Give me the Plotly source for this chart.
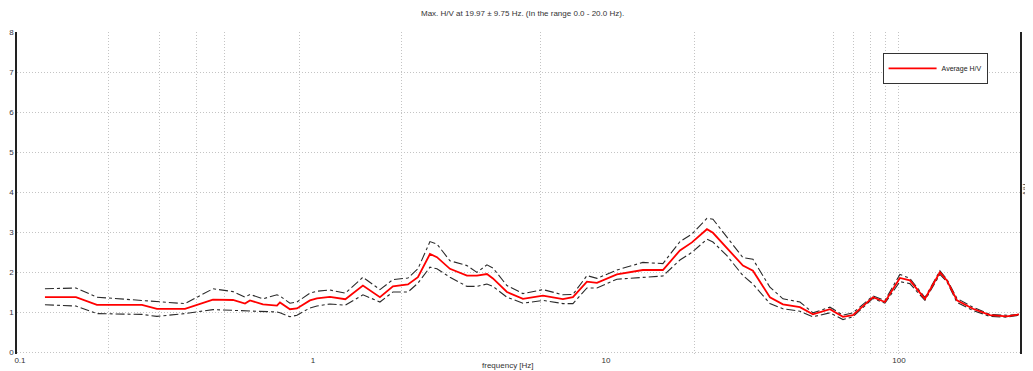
import plotly.graph_objects as go
import math

# Frequencies [Hz]
freq = [0.1217, 0.1553, 0.1831, 0.2609, 0.2935, 0.3658, 0.4557, 0.5333, 0.5862, 0.6095,
        0.6751, 0.7537, 0.7716, 0.8346, 0.8818, 0.9767, 1.032, 1.143, 1.29, 1.481,
        1.693, 1.875, 2.110, 2.282, 2.508, 2.650, 2.935, 3.355, 3.628, 3.925,
        4.115, 4.594, 5.209, 6.095, 7.132, 7.716, 8.614, 9.318, 10.90, 13.37,
        15.65, 17.89, 19.66, 22.12, 23.19, 25.88, 29.35, 31.75, 36.28, 40.19,
        45.94, 50.87, 58.15, 64.43, 69.66, 81.53, 89.59, 100.8, 109.0, 122.7,
        138.0, 145.8, 157.8, 178.9, 204.5, 233.7, 256.8]

hv_mean = [1.37, 1.37, 1.18, 1.18, 1.08, 1.08, 1.31, 1.30, 1.21, 1.29,
           1.19, 1.16, 1.24, 1.07, 1.09, 1.29, 1.34, 1.38, 1.32, 1.66,
           1.37, 1.64, 1.69, 1.87, 2.45, 2.37, 2.08, 1.91, 1.91, 1.95,
           1.84, 1.50, 1.33, 1.41, 1.32, 1.37, 1.76, 1.73, 1.94, 2.05,
           2.05, 2.54, 2.74, 3.07, 2.98, 2.61, 2.16, 2.03, 1.37, 1.19,
           1.12, 0.94, 1.07, 0.88, 0.92, 1.37, 1.25, 1.85, 1.79, 1.33,
           1.99, 1.79, 1.29, 1.08, 0.92, 0.89, 0.94]

hv_upper = [1.58, 1.60, 1.37, 1.28, 1.25, 1.21, 1.58, 1.51, 1.37, 1.44,
            1.33, 1.43, 1.40, 1.22, 1.25, 1.47, 1.52, 1.55, 1.47, 1.87,
            1.56, 1.81, 1.85, 2.08, 2.76, 2.70, 2.28, 2.16, 1.99, 2.18,
            2.10, 1.66, 1.46, 1.56, 1.43, 1.44, 1.91, 1.84, 2.05, 2.24,
            2.21, 2.76, 2.95, 3.34, 3.32, 2.86, 2.36, 2.32, 1.62, 1.33,
            1.25, 0.98, 1.12, 0.92, 0.98, 1.40, 1.29, 1.94, 1.84, 1.36,
            2.03, 1.82, 1.34, 1.12, 0.94, 0.92, 0.94]

hv_lower = [1.18, 1.15, 0.96, 0.94, 0.89, 0.96, 1.06, 1.04, 1.03, 1.03,
            1.00, 1.00, 0.98, 0.88, 0.92, 1.10, 1.15, 1.20, 1.17, 1.43,
            1.25, 1.50, 1.50, 1.72, 2.12, 2.08, 1.87, 1.64, 1.64, 1.70,
            1.64, 1.37, 1.22, 1.29, 1.21, 1.21, 1.60, 1.60, 1.82, 1.87,
            1.90, 2.30, 2.49, 2.82, 2.75, 2.41, 1.91, 1.70, 1.21, 1.08,
            1.02, 0.88, 0.98, 0.81, 0.88, 1.34, 1.22, 1.76, 1.71, 1.29,
            1.94, 1.76, 1.24, 1.04, 0.89, 0.87, 0.92]

x_grid_vals = [0.2, 0.3, 0.4, 0.5, 0.9, 2, 6, 20, 60, 70, 80, 90, 100]
x_label_vals = [0.1, 1, 10, 100]
x_label_text = ["0.1", "1", "10", "100"]
y_tick_vals = [0, 1, 2, 3, 4, 5, 6, 7, 8]

title_text = "Max. H/V at 19.97 \u00b1 9.75 Hz. (In the range 0.0 - 20.0 Hz)."

xr = [math.log10(0.0977), math.log10(259)]

fig = go.Figure()
fig.add_trace(go.Scatter(x=freq, y=hv_upper, mode="lines", showlegend=False,
                         line=dict(color="#2a2a2a", width=1.1, dash="dashdot"), hoverinfo="skip"))
fig.add_trace(go.Scatter(x=freq, y=hv_lower, mode="lines", showlegend=False,
                         line=dict(color="#2a2a2a", width=1.1, dash="dashdot"), hoverinfo="skip"))
fig.add_trace(go.Scatter(x=freq, y=hv_mean, mode="lines", name="Average H/V",
                         line=dict(color="#ff0000", width=1.8)))
# invisible trace to activate label axis
fig.add_trace(go.Scatter(x=freq, y=hv_mean, xaxis="x2", mode="lines", showlegend=False,
                         line=dict(width=0), opacity=0, hoverinfo="skip"))

font = "Liberation Sans, Arial, sans-serif"
grid_col = "#c4c4c4"
# page body has an 8px default margin: figure is sized to fit the window
fig.update_layout(
    width=1025, height=363,
    margin=dict(l=9, r=13, t=24, b=17, autoexpand=False),
    paper_bgcolor="white", plot_bgcolor="white",
    font=dict(family=font, size=8, color="#333"),
    title=dict(text=title_text, x=0.502, xanchor="center", y=0.987, yanchor="middle",
               font=dict(family=font, size=8, color="#333")),
    xaxis=dict(type="log", range=xr, tickvals=x_grid_vals, showticklabels=False,
               showgrid=True, griddash="1px,2px", gridcolor=grid_col, gridwidth=1,
               showline=False, zeroline=False, ticks="", automargin=False),
    xaxis2=dict(type="log", range=xr, overlaying="x", side="bottom", anchor="y",
                tickvals=x_label_vals, ticktext=x_label_text, showgrid=False,
                showline=False, zeroline=False, ticks="", ticklabelstandoff=0,
                automargin=False, tickfont=dict(size=8, color="#333")),
    yaxis=dict(range=[-0.05, 8], tickvals=y_tick_vals, showgrid=True, griddash="1px,2px",
               gridcolor=grid_col, gridwidth=1, zeroline=False,
               showline=True, linecolor="#222", linewidth=1.5, mirror=True,
               ticks="", tickfont=dict(size=8, color="#334"), ticklabelstandoff=0,
               automargin=False),
    legend=dict(x=0.863, y=0.935, xanchor="left", yanchor="top",
                bgcolor="white", bordercolor="#333", borderwidth=1,
                font=dict(size=7, color="#222"), itemwidth=48),
    annotations=[
        dict(text="frequency [Hz]", xref="paper", yref="paper", x=0.49, y=0,
             yshift=-11, showarrow=False, font=dict(size=8, color="#333"),
             xanchor="center", yanchor="middle"),
        dict(text="H/V", xref="paper", yref="paper", x=1, xshift=5, y=0.51,
             textangle=90, showarrow=False, font=dict(size=7, color="#333"),
             xanchor="center", yanchor="middle"),
    ],
)

fig.write_html("out.html")
